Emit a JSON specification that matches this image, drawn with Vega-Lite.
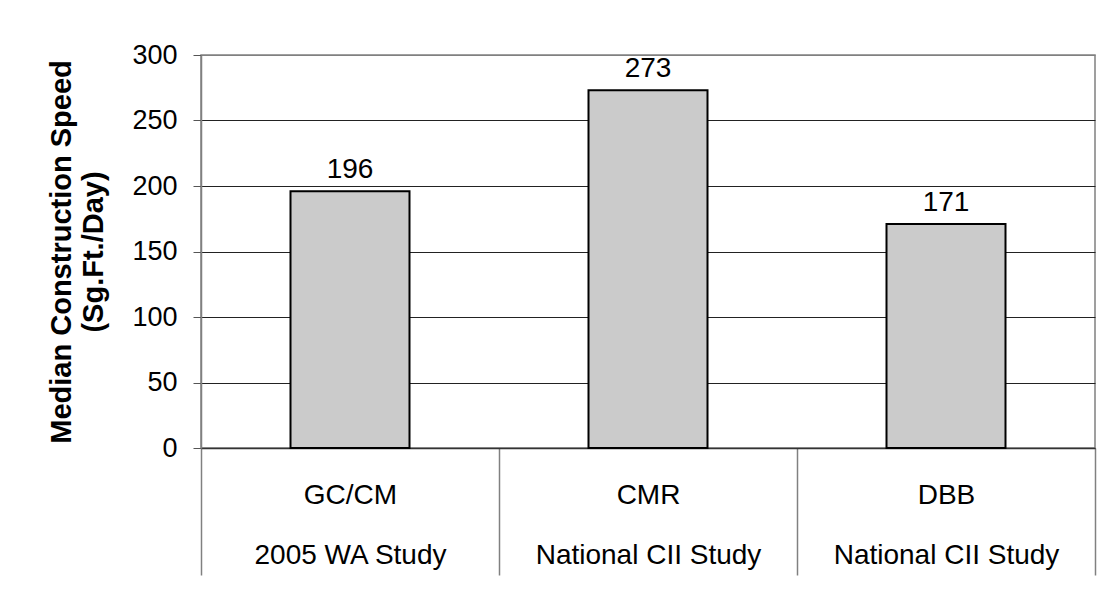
{
  "$schema": "https://vega.github.io/schema/vega-lite/v6.json",
  "width": 894,
  "height": 393,
  "autosize": "none",
  "padding": {"left": 201, "top": 55, "right": 11, "bottom": 152},
  "background": "white",
  "data": {
    "values": [
      {"method": "GC/CM", "study": "2005 WA Study", "speed": 196},
      {"method": "CMR", "study": "National CII Study", "speed": 273},
      {"method": "DBB", "study": "National CII Study", "speed": 171}
    ]
  },
  "encoding": {
    "x": {
      "field": "method",
      "type": "nominal",
      "sort": null,
      "scale": {"paddingInner": 0, "paddingOuter": 0},
      "axis": {
        "title": null,
        "labelAngle": 0,
        "labelExpr": "datum.label ? [datum.label, datum.label == 'GC/CM' ? '2005 WA Study' : 'National CII Study'] : ''",
        "labelFont": "Liberation Sans",
        "labelFontSize": 28,
        "labelColor": "black",
        "labelBaseline": "top",
        "labelLineHeight": 60,
        "labelPadding": -94,
        "labelLimit": 400,
        "tickBand": "extent",
        "tickSize": 127,
        "tickColor": "#808080",
        "tickWidth": 1.5,
        "domainColor": "#333333",
        "domainWidth": 1.5
      }
    },
    "y": {
      "field": "speed",
      "type": "quantitative",
      "scale": {"domain": [0, 300], "nice": false},
      "axis": {
        "values": [0, 50, 100, 150, 200, 250, 300],
        "title": ["Median Construction Speed", "(Sg.Ft./Day)"],
        "titleFont": "Liberation Sans",
        "titleFontSize": 29,
        "titleFontWeight": "bold",
        "titleColor": "black",
        "titleLineHeight": 32,
        "titlePadding": 23,
        "labelFont": "Liberation Sans",
        "labelFontSize": 27,
        "labelColor": "black",
        "labelPadding": 16,
        "tickSize": 8,
        "tickColor": "#555555",
        "domainColor": "#808080",
        "domainWidth": 1.5,
        "grid": true,
        "gridColor": {"condition": {"test": "datum.value === 300", "value": "#808080"}, "value": "#222222"},
        "gridWidth": 1
      }
    }
  },
  "layer": [
    {
      "mark": {"type": "bar", "size": 119, "color": "#cbcbcb", "stroke": "black", "strokeWidth": 2}
    },
    {
      "mark": {"type": "text", "font": "Liberation Sans", "fontSize": 28, "color": "black", "baseline": "alphabetic", "dy": -13},
      "encoding": {"text": {"field": "speed", "type": "quantitative"}}
    }
  ],
  "config": {
    "view": {"stroke": "#808080", "strokeWidth": 1.5}
  }
}
